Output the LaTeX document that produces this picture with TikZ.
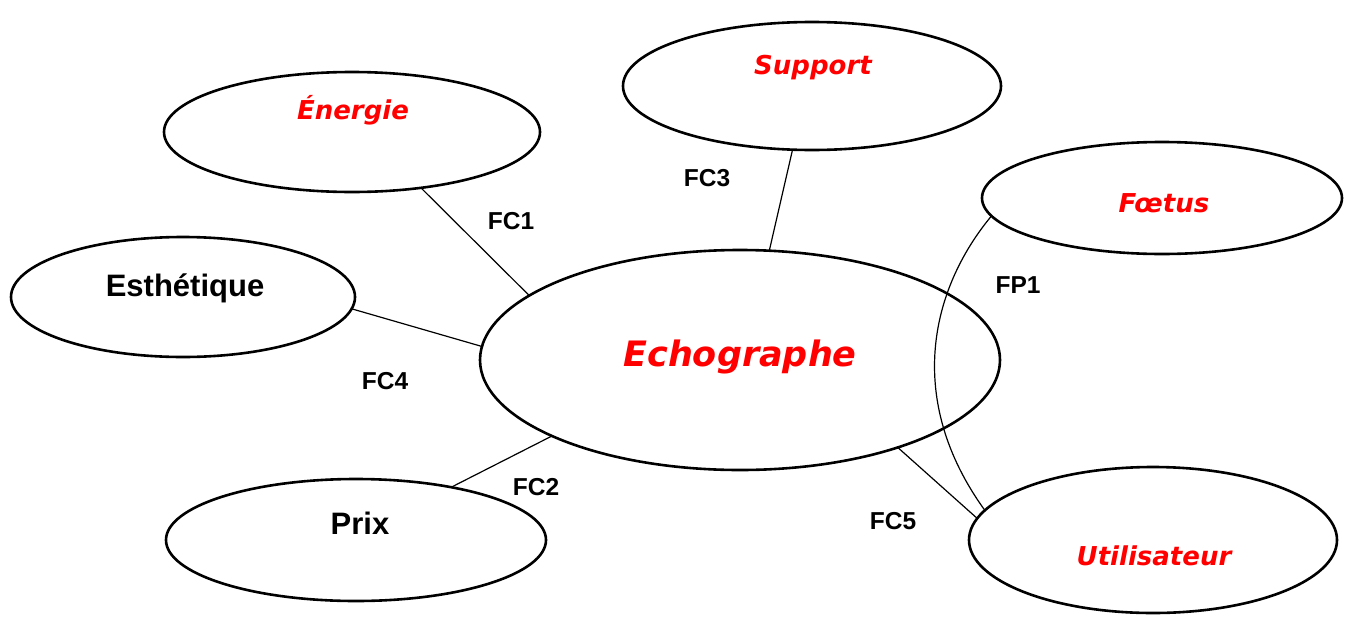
\documentclass[tikz,border=0pt]{standalone}
\usepackage{fontspec}
\setmainfont{Liberation Sans}
\newfontfamily\comicfont{DejaVu Sans}
\usetikzlibrary{shapes.geometric}
\definecolor{lblred}{RGB}{255,0,0}
\tikzset{
  oval/.style={draw, ellipse, line width=2.6pt, inner sep=0pt, outer sep=0pt},
  link/.style={line width=1.2pt},
  redtxt/.style={text=lblred, font=\comicfont\bfseries\itshape\fontsize{26}{30}\selectfont},
  blktxt/.style={font=\bfseries\fontsize{31}{36}\selectfont},
  fclbl/.style={font=\bfseries\fontsize{24.5}{28}\selectfont}
}
\begin{document}
\begin{tikzpicture}[x=1pt,y=-1pt]
\useasboundingbox (0,0) rectangle (1349,616);
% ellipses
\node[oval, minimum width=376pt, minimum height=120pt] (en) at (352,132) {};
\node[oval, minimum width=378pt, minimum height=128pt] (su) at (812,86) {};
\node[oval, minimum width=360pt, minimum height=112pt] (fo) at (1162,198) {};
\node[oval, minimum width=344pt, minimum height=120pt] (es) at (183,297) {};
\node[oval, minimum width=520pt, minimum height=220pt] (ec) at (740,360) {};
\node[oval, minimum width=380pt, minimum height=122pt] (pr) at (356,540) {};
\node[oval, minimum width=368pt, minimum height=146pt] (ut) at (1153,540) {};
% texts
\node[redtxt] (ten) at (353,110) {Énergie};
\node[redtxt] (tsu) at (813,68) {Support};
\node[redtxt] (tfo) at (1164,203) {Fœtus};
\node[blktxt] (tes) at (185,288) {Esthétique};
\node[redtxt, font=\comicfont\bfseries\itshape\fontsize{35}{40}\selectfont] (tec) at (740,357) {Echographe};
\node[blktxt] (tpr) at (360,523) {Prix};
\node[redtxt] (tut) at (1154,556) {Utilisateur};
% connectors
\draw[link] (en.-39.5) -- (ec.163.9);
\draw[link] (su.253.5) -- (ec.75);
\draw[link] (es.-4) -- (ec.177.8);
\draw[link] (pr.29.4) -- (ec.202.9);
\draw[link] (ec.-29.8) -- (ut.173.4);
\draw[link] (fo.186.7) .. controls (930,290) and (905,400) .. (ut.170.6);
% labels
\node[fclbl] (l1) at (511,221) {FC1};
\node[fclbl] (l3) at (707,178) {FC3};
\node[fclbl] (l4) at (385,381) {FC4};
\node[fclbl] (l2) at (536,487) {FC2};
\node[fclbl] (l5) at (893,521) {FC5};
\node[fclbl] (lp) at (1018,285) {FP1};
\end{tikzpicture}
\end{document}
